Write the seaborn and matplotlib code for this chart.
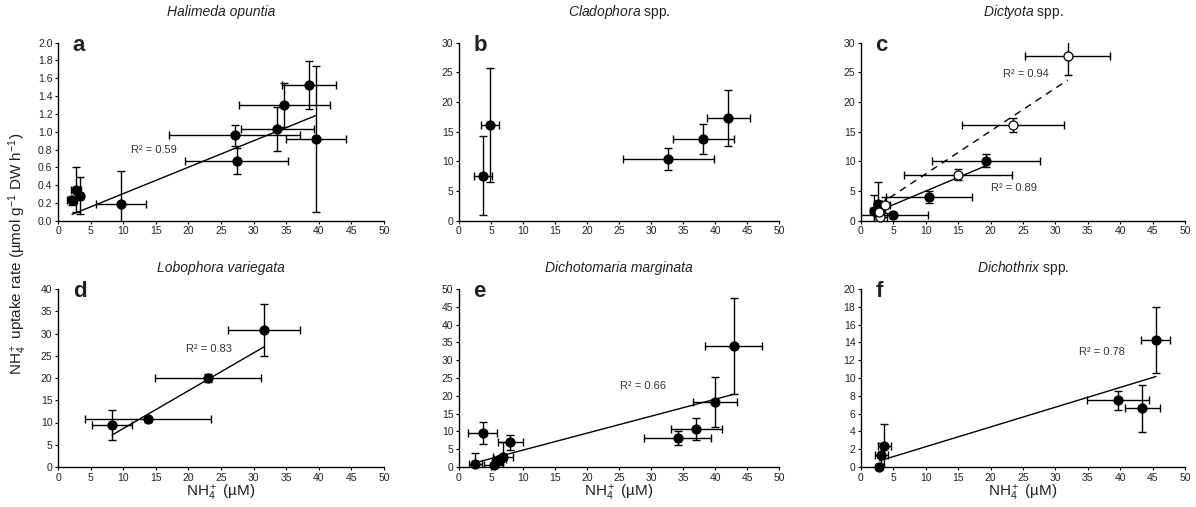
import numpy as np
import pandas as pd
import matplotlib
matplotlib.use("Agg")
import matplotlib.pyplot as plt
import seaborn as sns

# ---------------- data ----------------
species = ["Halimeda opuntia", "Cladophora spp.", "Dictyota spp.",
           "Lobophora variegata", "Dichotomaria marginata", "Dichothrix spp."]
letters = ["a", "b", "c", "d", "e", "f"]

a_x = [2.15, 2.8, 3.4, 9.66, 27.1, 27.45, 33.6, 34.7, 38.5, 39.5]
a_y = [0.23, 0.35, 0.28, 0.19, 0.96, 0.67, 1.03, 1.30, 1.52, 0.92]
a_xerr = [0.8, 0.75, 0.5, 3.8, 10.0, 7.9, 5.6, 7.0, 4.1, 4.6]
a_yerr = [0.05, 0.25, 0.21, 0.37, 0.12, 0.15, 0.25, 0.25, 0.27, 0.82]

b_x = [3.75, 4.8, 32.7, 38.2, 42.1]
b_y = [7.6, 16.1, 10.4, 13.8, 17.3]
b_xerr = [1.45, 1.4, 7.1, 4.7, 3.3]
b_yerr = [6.6, 9.6, 1.9, 2.5, 4.7]

c_fill_x = [1.95, 2.6, 5.0, 10.5, 19.3]
c_fill_y = [1.6, 2.8, 1.0, 4.0, 10.1]
c_fill_xerr = [0.5, 0.6, 5.3, 6.7, 8.4]
c_fill_yerr = [2.8, 3.8, 0.4, 1.0, 1.1]
c_open_x = [2.98, 2.8, 3.75, 15.0, 23.4, 31.9]
c_open_y = [0.55, 1.5, 2.65, 7.75, 16.1, 27.7]
c_open_xerr = [1.0, 0.8, 0.7, 8.3, 7.85, 6.6]
c_open_yerr = [0.3, 0.5, 1.3, 0.9, 1.15, 3.1]

d_x = [8.3, 13.8, 23.0, 31.6]
d_y = [9.5, 10.7, 19.9, 30.8]
d_xerr = [3.1, 9.65, 8.1, 5.5]
d_yerr = [3.4, 0.6, 0.9, 5.8]

e_x = [2.55, 3.7, 5.4, 5.9, 6.4, 6.9, 8.0, 34.15, 37.1, 40.0, 42.9]
e_y = [0.75, 9.5, 0.55, 1.8, 2.3, 2.7, 6.9, 8.1, 10.6, 18.2, 34.0]
e_xerr = [1.0, 2.3, 1.5, 0.8, 1.0, 1.6, 1.95, 5.2, 4.0, 3.5, 4.4]
e_yerr = [3.3, 3.05, 0.5, 0.6, 0.8, 4.2, 2.1, 2.05, 3.1, 7.05, 13.5]

f_x = [2.85, 3.1, 3.6, 39.7, 43.4, 45.5]
f_y = [0.05, 1.35, 2.35, 7.5, 6.6, 14.3]
f_xerr = [0.6, 1.0, 1.0, 4.8, 2.7, 2.25]
f_yerr = [0.3, 1.4, 2.5, 1.05, 2.65, 3.7]

# linear fits: (slope, intercept, R2 label)
fit_a = (0.0297, 0.007, "0.59")
fit_c_fill = (0.459, 0.41, "0.89")
fit_c_open = (0.722, 0.677, "0.94")
fit_d = (0.85, 0.14, "0.83")
fit_e = (0.476, -0.01, "0.66")
fit_f = (0.222, 0.06, "0.78")

y_limits = [(0, 2.0, 0.2), (0, 30, 5), (0, 30, 5), (0, 40, 5), (0, 50, 5), (0, 20, 2)]

# ---------------- style ----------------
sns.set_theme(style="ticks")
plt.rcParams["font.family"] = ["Liberation Sans", "DejaVu Sans"]
plt.rcParams["mathtext.fontset"] = "custom"
plt.rcParams["mathtext.rm"] = "Liberation Sans"
plt.rcParams["mathtext.it"] = "Liberation Sans:italic"
plt.rcParams["mathtext.bf"] = "Liberation Sans:bold"

W, H = 1196, 507
fig = plt.figure(figsize=(W / 100, H / 100), dpi=100)

lefts = [58, 459, 861]
widths = [326, 320, 324]
tops = [42.7, 289]
bottoms = [220.7, 467]

axes = []
for r in range(2):
    for c in range(3):
        l = lefts[c] / W
        w = widths[c] / W
        b = 1 - bottoms[r] / H
        h = (bottoms[r] - tops[r]) / H
        axes.append(fig.add_axes([l, b, w, h]))

TXT = "#333333"


def draw_series(ax, x, y, xerr, yerr, filled=True):
    ax.errorbar(x, y, xerr=xerr, yerr=yerr, fmt="none", ecolor="black",
                elinewidth=1.0, capsize=2.6, capthick=1.0, zorder=2, clip_on=True)
    df = pd.DataFrame({"x": x, "y": y})
    sns.scatterplot(data=df, x="x", y="y", ax=ax, s=42,
                    color="black" if filled else "white",
                    edgecolor="black", linewidth=0.9, zorder=3, clip_on=False,
                    legend=False)


def draw_fit(ax, x, fit, dashed=False):
    slope, icpt, _ = fit
    xs = np.array([min(x), max(x)])
    df = pd.DataFrame({"x": xs, "y": slope * xs + icpt})
    sns.lineplot(data=df, x="x", y="y", ax=ax, color="black", lw=1.0,
                 linestyle=(0, (5, 4)) if dashed else "-", zorder=2.5)


def r2(ax, x, y, fit):
    ax.text(x, y, "R\u00b2 = " + fit[2], fontsize=8, color=TXT, va="center", ha="left")


series = [
    (a_x, a_y, a_xerr, a_yerr),
    (b_x, b_y, b_xerr, b_yerr),
    None,
    (d_x, d_y, d_xerr, d_yerr),
    (e_x, e_y, e_xerr, e_yerr),
    (f_x, f_y, f_xerr, f_yerr),
]

for i, ax in enumerate(axes):
    if i == 2:
        draw_fit(ax, c_open_x, fit_c_open, dashed=True)
        draw_fit(ax, c_fill_x, fit_c_fill)
        draw_series(ax, c_fill_x, c_fill_y, c_fill_xerr, c_fill_yerr, True)
        draw_series(ax, c_open_x, c_open_y, c_open_xerr, c_open_yerr, False)
    else:
        sx, sy, sxe, sye = series[i]
        if i == 0:
            draw_fit(ax, sx, fit_a)
        elif i == 3:
            draw_fit(ax, sx, fit_d)
        elif i == 4:
            draw_fit(ax, sx, fit_e)
        elif i == 5:
            draw_fit(ax, sx, fit_f)
        draw_series(ax, sx, sy, sxe, sye, True)

    lo, hi, st = y_limits[i]
    ax.set_xlim(0, 50)
    ax.set_ylim(lo, hi)
    ax.set_xticks(np.arange(0, 51, 5))
    ax.set_yticks(np.arange(lo, hi + st / 2, st))
    if i == 0:
        ax.set_yticklabels([f"{v:.1f}" for v in np.arange(lo, hi + st / 2, st)])
    ax.set_xlabel("")
    ax.set_ylabel("")
    for s in ["top", "right"]:
        ax.spines[s].set_visible(False)
    for s in ["left", "bottom"]:
        ax.spines[s].set_linewidth(1.0)
        ax.spines[s].set_color("black")
    ax.tick_params(axis="both", direction="out", length=2.5, width=0.8,
                   labelsize=7.5, pad=1.5, colors="black", labelcolor="#222222")

    # panel letter
    ax.text(0.045, 0.985, letters[i], transform=ax.transAxes, fontsize=16,
            fontweight="bold", color="#222222", ha="left", va="center")

# species titles
title_y = [12, 268]
for i, ax in enumerate(axes):
    r, c = divmod(i, 3)
    cx = (lefts[c] + widths[c] / 2) / W
    name = species[i]
    if name.endswith(" spp."):
        base = name[:-5]
        fig.text(cx, 1 - title_y[r] / H, f"$\\it{{{base}}}$ spp.", fontsize=10,
                 ha="center", va="center", color="#222222")
    else:
        fig.text(cx, 1 - title_y[r] / H, name, fontsize=10, style="italic",
                 ha="center", va="center", color="#222222")

# R2 labels
r2(axes[0], 11.2, 0.79, fit_a)
r2(axes[2], 21.9, 24.8, fit_c_open)
r2(axes[2], 20.1, 5.45, fit_c_fill)
r2(axes[3], 19.7, 26.6, fit_d)
r2(axes[4], 25.1, 22.7, fit_e)
r2(axes[5], 33.7, 12.95, fit_f)

# axis labels
for c in range(3):
    cx = (lefts[c] + widths[c] / 2) / W
    fig.text(cx, 1 - 493 / H, "NH$_4^+$ (\u00b5M)", fontsize=11,
             ha="center", va="center", color="#222222")

fig.text(18 / W, 0.5, "NH$_4^+$ uptake rate (\u00b5mol g$^{-1}$ DW h$^{-1}$)",
         rotation=90, fontsize=11, ha="center", va="center", color="#222222")

fig.savefig("out.png", dpi=100)
